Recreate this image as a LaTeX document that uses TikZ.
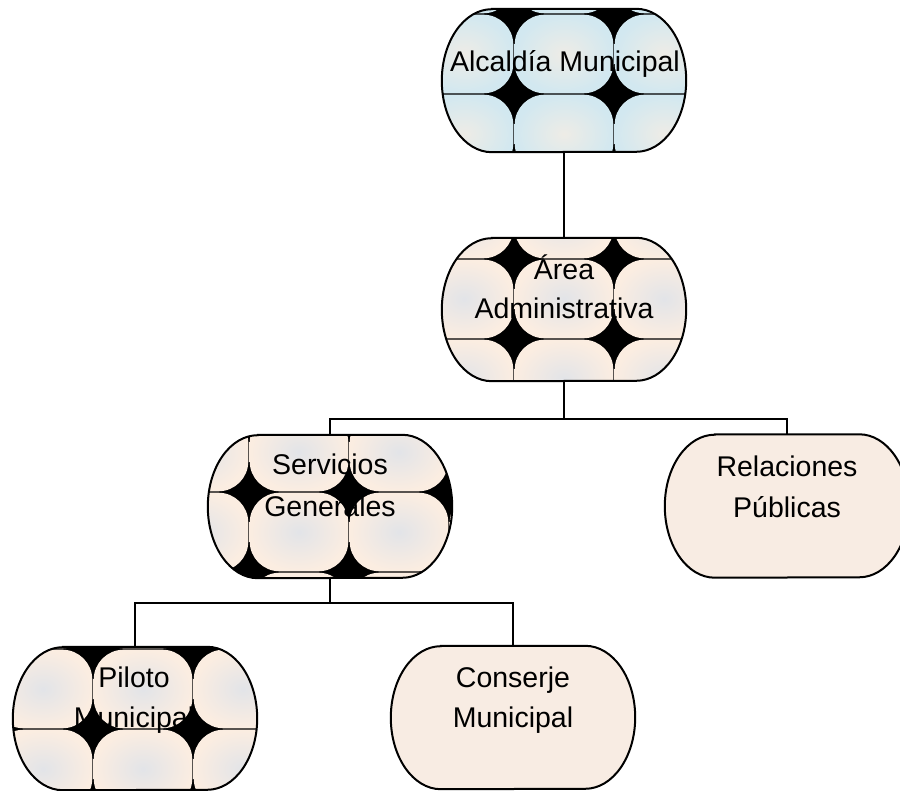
\documentclass[tikz,border=0pt]{standalone}
\usepackage{fontspec}
\setmainfont{Liberation Sans}
\definecolor{beige}{RGB}{248,236,227}
\definecolor{tileout}{RGB}{251,237,225}
\definecolor{tilein}{RGB}{226,228,232}
\definecolor{blueout}{RGB}{210,232,240}
\definecolor{bluein}{RGB}{238,236,230}
% elliptical-ended outline of a named node
\newcommand\eshape[1]{([xshift=50pt]#1.north west) -- ([xshift=-50pt]#1.north east)
  arc[start angle=90, end angle=0, x radius=50pt, y radius=71.5pt]
  arc[start angle=0, end angle=-90, x radius=50pt, y radius=71.5pt]
  -- ([xshift=50pt]#1.south west)
  arc[start angle=-90, end angle=-180, x radius=50pt, y radius=71.5pt]
  arc[start angle=180, end angle=90, x radius=50pt, y radius=71.5pt] -- cycle}
% tiled pattern: node, grid origin x, grid origin y, inner colour, outer colour
\newcommand\patfill[5]{%
  \begin{scope}
    \clip \eshape{#1};
    \fill[black] ([shift={(-5pt,5pt)}]#1.north west) rectangle ([shift={(5pt,-5pt)}]#1.south east);
    \foreach \i in {-2,...,2}{\foreach \j in {-2,...,2}{
      \shade[inner color=#4, outer color=#5, rounded corners=30pt]
        ({#2+100*\i+0.7},{#3+80*\j+0.7}) rectangle ({#2+100*\i+99.3},{#3+80*\j+79.3});
    }}
  \end{scope}
  \draw[outline] \eshape{#1};}
\newcommand\plainfill[1]{\draw[outline, fill=beige] \eshape{#1};}
\tikzset{
  orgbox/.style={minimum width=244pt, minimum height=143pt, inner sep=0pt},
  outline/.style={draw=black, line width=2pt},
  lbl/.style={font=\fontsize{28.5}{40}\selectfont, anchor=base, inner sep=0pt, text=black},
  conn/.style={draw=black, line width=1.6pt}
}
\begin{document}
\begin{tikzpicture}[x=1pt, y=-1pt]
\useasboundingbox (0,0) rectangle (900,791);
% boxes (anchors)
\node[orgbox] (alc) at (564,80.5) {};
\node[orgbox] (area) at (564,309.5) {};
\node[orgbox] (serv) at (330,506.5) {};
\node[orgbox] (rel) at (787,506) {};
\node[orgbox] (pil) at (135,718.5) {};
\node[orgbox] (con) at (513,717.5) {};
% fills and outlines
\patfill{alc}{514}{14}{bluein}{blueout}
\patfill{area}{514}{259}{tilein}{tileout}
\patfill{serv}{249}{492}{tilein}{tileout}
\patfill{pil}{93}{729}{tilein}{tileout}
\plainfill{rel}
\plainfill{con}
% connectors
\coordinate (j1) at (564,419);
\coordinate (j2) at (330,603);
\draw[conn] (alc.south) -- (area.north);
\draw[conn] (area.south) -- (j1);
\draw[conn] (serv.north) |- (j1) -| (rel.north);
\draw[conn] (serv.south) -- (j2);
\draw[conn] (pil.north) |- (j2) -| (con.north);
% texts
\node[lbl] (t1) at (565,72) {Alcaldía Municipal};
\node[lbl] (t2a) at (564,280) {Área};
\node[lbl] (t2b) at (564,319) {Administrativa};
\node[lbl] (t3a) at (330,475) {Servicios};
\node[lbl] (t3b) at (330,516) {Generales};
\node[lbl] (t4a) at (787,477) {Relaciones};
\node[lbl] (t4b) at (787,517) {Públicas};
\node[lbl] (t5a) at (134,687) {Piloto};
\node[lbl] (t5b) at (134,727) {Municipal};
\node[lbl] (t6a) at (513,687) {Conserje};
\node[lbl] (t6b) at (513,727) {Municipal};
\end{tikzpicture}
\end{document}
